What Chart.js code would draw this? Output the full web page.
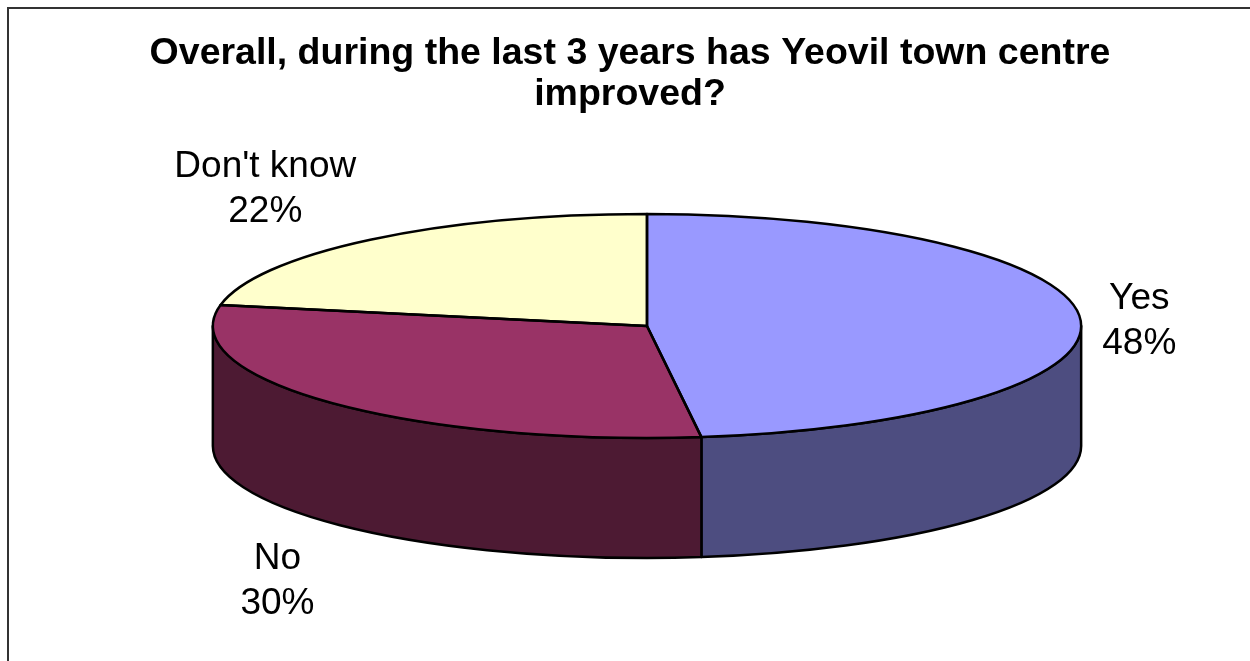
<!DOCTYPE html>
<html>
<head>
<meta charset="utf-8">
<script src="https://cdn.jsdelivr.net/npm/chart.js@4.4.0/dist/chart.umd.min.js"></script>
<style>
  html, body { margin: 0; padding: 0; background: #fff; overflow: hidden; }
  #frame { position: absolute; left: 7px; top: 7px; width: 1300px; height: 700px; border: 2px solid #333; }
  #pieChart { position: absolute; left: 0; top: 0; }
</style>
</head>
<body>
<div id="frame"></div>
<canvas id="pieChart" width="1250" height="661"></canvas>
<script>
const categories = ['Yes', 'No', "Don't know"];
const percentages = [48, 30, 22];
const sliceColors = ['#9999FF', '#993366', '#FFFFCC'];
const titleLines = ['Overall, during the last 3 years has Yeovil town centre', 'improved?'];

const TILT = 0.258;    // ry / rx of the top face
const DEPTH = 120;     // thickness of the pie
const SHIFT_X = 17;    // pie sits a little right of the title centre
const LABEL_GAP = 22;
const LABEL_LINE = 45;
const LABEL_NUDGE_Y = 7;
const FONT = "'Liberation Sans', Arial, Helvetica, sans-serif";

Chart.defaults.font.family = FONT;

// Excel style side wall: half the brightness of the top
function darker(hex) {
  const n = parseInt(hex.slice(1), 16);
  const r = Math.round(((n >> 16) & 255) / 2);
  const g = Math.round(((n >> 8) & 255) / 2);
  const b = Math.round((n & 255) / 2);
  return `rgb(${r},${g},${b})`;
}

function pieGeom(chart) {
  const arcs = chart.getDatasetMeta(0).data;
  const a = arcs[0];
  return {
    arcs: arcs,
    ox: a.x, oy: a.y,
    cx: a.x + SHIFT_X, cy: a.y,
    rx: a.outerRadius / TILT, ry: a.outerRadius
  };
}

const pie3d = {
  id: 'pie3d',
  beforeDatasetsDraw(chart) {
    const ctx = chart.ctx;
    const g = pieGeom(chart);

    // side walls, only the front half (angles 0..PI) is visible
    ctx.save();
    ctx.lineWidth = 2.5;
    ctx.strokeStyle = '#000';
    ctx.lineJoin = 'round';
    g.arcs.forEach((arc, i) => {
      for (let k = 0; k <= 1; k++) {
        const lo = Math.max(arc.startAngle, 2 * Math.PI * k);
        const hi = Math.min(arc.endAngle, 2 * Math.PI * k + Math.PI);
        if (hi <= lo) continue;
        ctx.beginPath();
        ctx.ellipse(g.cx, g.cy, g.rx, g.ry, 0, lo, hi);
        ctx.lineTo(g.cx + g.rx * Math.cos(hi), g.cy + DEPTH + g.ry * Math.sin(hi));
        ctx.ellipse(g.cx, g.cy + DEPTH, g.rx, g.ry, 0, hi, lo, true);
        ctx.closePath();
        ctx.fillStyle = darker(sliceColors[i]);
        ctx.fill();
        ctx.stroke();
      }
    });
    ctx.restore();

    // squash the flat pie into the tilted top face
    ctx.save();
    ctx.translate(g.cx, g.cy);
    ctx.scale(1 / TILT, 1);
    ctx.translate(-g.ox, -g.oy);
  },
  afterDatasetsDraw(chart) {
    const ctx = chart.ctx;
    ctx.restore();
    const g = pieGeom(chart);

    // outlines of the top face
    ctx.save();
    ctx.lineWidth = 2.5;
    ctx.strokeStyle = '#000';
    ctx.lineJoin = 'round';
    g.arcs.forEach(arc => {
      ctx.beginPath();
      ctx.moveTo(g.cx, g.cy);
      ctx.ellipse(g.cx, g.cy, g.rx, g.ry, 0, arc.startAngle, arc.endAngle);
      ctx.closePath();
      ctx.stroke();
    });

    // data labels outside each slice
    ctx.font = '37px ' + FONT;
    ctx.fillStyle = '#000';
    ctx.textAlign = 'center';
    ctx.textBaseline = 'middle';
    g.arcs.forEach((arc, i) => {
      const mid = (arc.startAngle + arc.endAngle) / 2;
      const c = Math.cos(mid), s = Math.sin(mid);
      const lines = [categories[i], percentages[i] + '%'];
      const w = Math.max(...lines.map(t => ctx.measureText(t).width));
      const h = LABEL_LINE * lines.length;
      const ax = g.cx + g.rx * c;
      const ay = g.cy + g.ry * s + (s > 0 ? DEPTH : 0);
      const lx = ax + c * LABEL_GAP + Math.sign(c) * w / 2;
      const ly = ay + s * (h / 2 + 30) + LABEL_NUDGE_Y;
      lines.forEach((t, j) => {
        ctx.fillText(t, lx, ly + (j - (lines.length - 1) / 2) * LABEL_LINE);
      });
    });
    ctx.restore();
  }
};

const ctxPie = document.getElementById('pieChart').getContext('2d');

const pieChart = new Chart(ctxPie, {
  type: 'pie',
  data: {
    labels: categories,
    datasets: [{
      data: percentages,
      backgroundColor: sliceColors,
      borderWidth: 0,
      hoverOffset: 0,
      offset: 0
    }]
  },
  options: {
    responsive: false,
    animation: false,
    events: [],
    layout: {
      padding: { top: 32.9, bottom: 223, left: 10, right: 0 }
    },
    plugins: {
      legend: { display: false },
      tooltip: { enabled: false },
      title: {
        display: true,
        text: titleLines,
        color: '#000',
        font: { size: 37.5, weight: 'bold', lineHeight: 1.093 },
        padding: { top: 0, bottom: 99.1 }
      }
    }
  },
  plugins: [pie3d]
});
</script>
</body>
</html>
